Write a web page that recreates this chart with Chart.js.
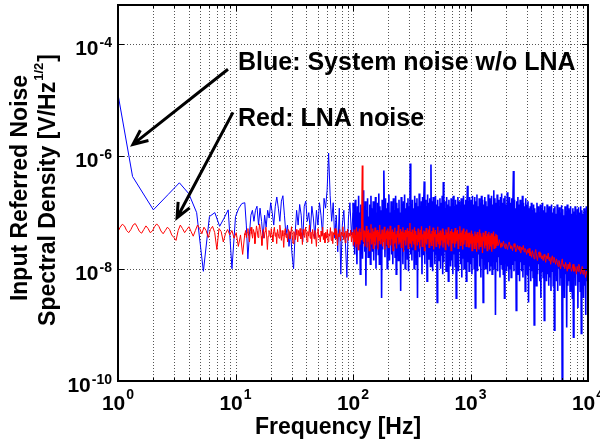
<!DOCTYPE html>
<html>
<head>
<meta charset="utf-8">
<script src="https://cdn.jsdelivr.net/npm/chart.js@4.4.1/dist/chart.umd.min.js"></script>
<style>
  html, body { margin: 0; padding: 0; background: #fff; }
  #wrap { width: 600px; height: 444px; }
</style>
</head>
<body>
<div id="wrap"><canvas id="psd" width="600" height="444"></canvas></div>
<script>
// noise density, in nV/rtHz
const NV = 1e-9;
const FONT = '"Liberation Sans", Arial, sans-serif';

// system noise (blue): the first bins are typed with their frequency
const blueLowHz = [1, 1.33, 2, 2.67, 3.33, 4, 4.67, 5.33, 6, 6.67, 7.33, 8, 8.67, 9.33, 10, 10.67, 11.33];
const blueLowNV = [12800, 440, 112, 210, 340, 218, 100, 9, 85, 100, 57, 80, 112, 10, 85, 120, 145];
// 12 Hz .. 100 Hz
const blueMidNV = [150, 60, 15, 40, 90, 110, 70, 110, 130, 60, 120, 70, 35, 90, 55, 110, 80, 150, 100, 60,
  130, 190, 120, 70, 160, 200, 90, 40, 60, 25, 45, 18, 10, 40, 110, 60, 140, 90, 30, 130,
  160, 70, 100, 45, 130, 80, 35, 110, 60, 150, 90, 40, 180, 120, 250, 1150, 200, 70, 150, 35,
  90, 20, 120, 8, 60, 110, 30, 7, 80, 150, 40, 100];
// 100 Hz .. 10 kHz
const blueHighNV = [
  150, 25, 110, 18, 170, 40, 90, 12, 130, 30, 200, 22, 100, 8, 140, 35, 120, 15, 250, 28, 95, 20, 160, 5, 110, 30, 180, 16, 85, 24, 140, 12, 200, 30, 120,
  20, 160, 14, 120, 28, 190, 10, 100, 24, 150, 18, 220, 12, 130, 30, 110, 3, 170, 22, 140, 560, 90, 16, 180, 26, 120, 10, 150, 20, 210, 14, 100, 30, 160, 18,
  130, 12, 180, 25, 110, 16, 200, 8, 150, 28, 120, 14, 170, 20, 100, 4, 190, 26, 140, 12, 160, 22, 210, 10, 120, 30, 150, 15, 180, 9, 130, 24, 750, 18, 140,
  14, 170, 22, 120, 10, 200, 28, 150, 12, 180, 3, 130, 20, 220, 16, 110, 25, 160, 8, 190, 18, 140, 360, 12, 170, 24, 130, 6, 210, 15, 150, 20, 180, 11, 720,
  15, 160, 9, 190, 20, 120, 12, 200, 18, 140, 2.5, 170, 14, 130, 22, 180, 10, 150, 17, 200, 8, 350, 13, 160, 20, 120, 9, 190, 15, 140, 6, 170, 19, 130, 11,
  180, 14, 150, 8, 200, 18, 130, 11, 170, 3, 140, 16, 190, 9, 160, 20, 120, 12, 180, 7, 150, 15, 200, 10, 140, 18, 170, 6, 130, 300, 13, 160, 9, 190, 16,
  12, 170, 8, 200, 16, 140, 10, 190, 2, 160, 14, 210, 9, 130, 18, 180, 11, 150, 7, 200, 15, 170, 2.5, 140, 12, 190, 10, 160, 17, 130, 8, 210, 13, 180, 9,
  160, 11, 200, 8, 140, 14, 250, 10, 180, 1.5, 150, 13, 210, 9, 170, 16, 130, 7, 190, 12, 220, 10, 150, 8, 180, 3, 200, 14, 140, 9, 230, 11, 160, 6, 190,
  10, 150, 7, 180, 12, 130, 550, 9, 170, 14, 120, 1.8, 160, 8, 190, 11, 140, 6, 170, 13, 110, 9, 200, 7, 150, 12, 130, 4, 180, 10, 140, 8, 160, 2.5, 120,
  11, 130, 6, 150, 9, 110, 7, 140, 1, 120, 10, 100, 5, 150, 8, 130, 12, 90, 6, 140, 3, 120, 9, 150, 7, 110, 1.2, 130, 10, 100, 6, 140, 8, 120, 5,
  130, 7, 110, 4, 140, 9, 100, 5, 120, 0.8, 130, 8, 95, 6, 140, 4, 110, 10, 125, 5, 100, 7, 135, 0.05, 115, 6, 90, 3, 130, 8, 105, 0.9, 140, 5, 120,
  6, 110, 4, 130, 8, 95, 3, 120, 0.6, 105, 7, 130, 5, 90, 9, 115, 2, 125, 6, 100, 4, 130, 0.7, 110, 8, 95, 3, 120, 5, 105, 1.5, 130, 6, 100, 4
];

// LNA noise (red)
// 1 Hz .. 12 Hz
const redLowNV = [46, 55, 62, 58, 48, 44, 50, 60, 64, 55, 46, 43, 50, 58, 52, 44, 47, 56, 63, 57,
  47, 42, 48, 55, 50, 40, 36, 32, 48, 60, 52, 44, 50, 56, 46, 38, 48, 60, 52, 42,
  55, 48, 36, 50, 57, 44, 22, 52, 46, 30, 42, 50, 40, 48, 35, 44, 25, 40, 18, 42];
// 12 Hz .. 100 Hz
const redMidNV = [
  40, 48, 36, 44, 52, 38, 30, 46, 55, 42, 35, 50, 44, 28, 40, 58, 48, 36, 45, 63, 50, 38, 26, 42, 50, 35, 46, 55, 40, 22, 38, 48, 44,
  36, 52, 40, 30, 46, 55, 38, 44, 28, 50, 42, 35, 60, 45, 32, 48, 38, 24, 44, 52, 36, 42, 30, 50, 46, 34, 40, 56, 38, 28, 46, 42, 33, 50, 40,
  30, 48, 38, 52, 34, 44, 27, 50, 40, 36, 55, 42, 30, 46, 38, 60, 35, 45, 28, 50, 42, 34, 48, 37, 25, 44, 52, 36, 40, 30, 47, 38, 55, 33, 43, 29,
  45, 35, 50, 30, 42, 38, 54, 32, 46, 28, 44, 40, 52, 34, 48, 26, 42, 37, 50, 31, 45, 39, 56, 33, 44, 29, 47, 36, 51, 32, 43, 38, 49, 30, 45, 35
];
// 100 Hz .. 1.7 kHz
const redBandNV = [
  44, 26, 50, 30, 40, 24, 55, 28, 46, 22, 38, 52, 27, 45, 33, 80, 690, 70, 30, 48, 25, 42, 36, 58, 24, 47, 31, 50, 21, 44, 35, 62, 27, 40, 52, 23, 46, 30, 54, 26, 43, 37, 49, 22, 45, 32, 60, 28, 41, 34,
  50, 25, 44, 30, 56, 22, 40, 35, 48, 27, 52, 24, 46, 33, 58, 26, 42, 38, 50, 21, 45, 29, 54, 31, 41, 23, 47, 36, 60, 27, 43, 30, 51, 24, 46, 34, 55, 20, 44, 32, 49, 26, 42, 37, 53, 23, 47, 29, 65, 28,
  45, 24, 50, 31, 42, 27, 55, 22, 47, 35, 40, 26, 52, 30, 44, 23, 49, 33, 57, 25, 41, 36, 48, 21, 46, 29, 53, 27, 43, 34, 50, 24, 58, 30, 42, 26, 47, 32, 54, 22, 45, 37, 49, 25, 41, 31, 56, 28, 44, 23,
  48, 26, 43, 32, 52, 24, 46, 30, 40, 22, 50, 35, 44, 27, 55, 25, 42, 33, 47, 21, 51, 29, 45, 36, 40, 24, 53, 28, 46, 31, 49, 23, 42, 34, 57, 26, 44, 30, 48, 22, 52, 27, 41, 33, 46, 25, 50, 29, 43, 24,
  44, 24, 40, 28, 48, 21, 42, 30, 38, 23, 46, 26, 41, 20, 45, 29, 39, 22, 50, 25, 43, 27, 37, 19, 44, 31, 40, 23, 47, 26, 38, 21, 42, 28, 45, 22, 39, 25, 43, 20, 41, 27, 46, 23, 38, 24, 42, 26, 40, 28
];
// 1.7 kHz .. 10 kHz
const redTopNV = [
  30, 26, 33, 28, 24, 29, 25, 31, 27, 23, 28, 25, 22, 27, 30, 26, 23, 25, 21, 26, 28, 24, 20, 23, 26, 22, 25, 21, 19, 24, 22, 26, 20, 23, 21,
  18, 22, 19, 23, 17, 20, 16, 21, 18, 15, 19, 22, 17, 14, 18, 20, 16, 19, 15, 17, 14, 18, 16, 13, 17, 15, 19, 14, 16, 12, 15, 17, 13, 16, 14, 12, 15,
  13, 11, 14, 12, 10, 13, 15, 11, 12, 10, 13, 11, 9, 12, 10, 13, 11, 9, 10, 12, 9, 11, 10, 8, 11, 9, 12, 10, 8, 9, 11, 8, 10, 9, 7, 9, 8, 7
];

const xTickExp = [0, 1, 2, 3, 4];
const yTickExp = [-10, -8, -6, -4];
const yMax = 5e-4;

// text and arrows, anchored in data units [Hz, V]
const notes = [
  { text: 'Blue: System noise w/o LNA', at: [10.5, 3.43e-5], from: [8.63, 3.58e-5], to: [1.34, 1.64e-6] },
  { text: 'Red: LNA noise', at: [10.5, 3.43e-6], from: [9.52, 6.1e-6], to: [3.18, 8.1e-8] }
];

// put a run of bins on a log-spaced frequency grid between f0 and f1
function spread(f0, f1, vals) {
  const n = vals.length;
  return vals.map(function (v, i) {
    return { x: f0 * Math.pow(f1 / f0, i / (n - 1)), y: v * NV };
  });
}

const blueSparse = blueLowHz.map(function (f, i) {
  return { x: f, y: blueLowNV[i] * NV };
}).concat(spread(12, 100, blueMidNV));
const blueDense = spread(100, 10000, blueHighNV);

const redSparse = spread(1, 12, redLowNV).concat(spread(12, 100, redMidNV));
const redDense = spread(100, 1700, redBandNV);
const redTail = spread(1700, 10000, redTopNV);

function drawPow(ctx, exp, x, base, rise, align) {
  ctx.font = 'bold 21px ' + FONT;
  const w1 = ctx.measureText('10').width;
  ctx.font = 'bold 14px ' + FONT;
  const w2 = ctx.measureText(String(exp)).width;
  const total = w1 + 1 + w2;
  const left = align === 'right' ? x - total : x - total / 2;
  ctx.textAlign = 'left';
  ctx.textBaseline = 'alphabetic';
  ctx.font = 'bold 21px ' + FONT;
  ctx.fillText('10', left, base);
  ctx.font = 'bold 14px ' + FONT;
  ctx.fillText(String(exp), left + w1 + 1, base - rise);
}

function arrow(ctx, x1, y1, x2, y2) {
  const a = Math.atan2(y2 - y1, x2 - x1);
  const len = 16, wing = 0.42;
  ctx.beginPath();
  ctx.moveTo(x1, y1);
  ctx.lineTo(x2, y2);
  ctx.moveTo(x2 - len * Math.cos(a - wing), y2 - len * Math.sin(a - wing));
  ctx.lineTo(x2, y2);
  ctx.lineTo(x2 - len * Math.cos(a + wing), y2 - len * Math.sin(a + wing));
  ctx.stroke();
}

const axesLook = {
  id: 'axesLook',
  beforeDatasetsDraw: function (chart) {
    const ctx = chart.ctx, a = chart.chartArea;
    const xs = chart.scales.x, ys = chart.scales.y;
    ctx.save();
    ctx.strokeStyle = '#555';
    ctx.lineWidth = 1;
    ctx.setLineDash([1, 2]);
    ctx.beginPath();
    for (let k = 0; k < 4; k++) {
      for (let m = 1; m < 10; m++) {
        const f = m * Math.pow(10, k);
        if (f === 1) continue;
        const px = Math.round(xs.getPixelForValue(f)) + 0.5;
        ctx.moveTo(px, a.top);
        ctx.lineTo(px, a.bottom);
      }
    }
    yTickExp.forEach(function (e) {
      if (e === yTickExp[0]) return;
      const py = Math.round(ys.getPixelForValue(Math.pow(10, e))) + 0.5;
      ctx.moveTo(a.left, py);
      ctx.lineTo(a.right, py);
    });
    ctx.stroke();
    ctx.restore();
  },
  afterDatasetsDraw: function (chart) {
    const ctx = chart.ctx, a = chart.chartArea;
    const xs = chart.scales.x, ys = chart.scales.y;
    ctx.save();
    ctx.strokeStyle = '#000';
    ctx.fillStyle = '#000';

    // inward ticks
    ctx.lineWidth = 1;
    ctx.beginPath();
    for (let k = 0; k < 4; k++) {
      for (let m = 1; m < 10; m++) {
        const px = Math.round(xs.getPixelForValue(m * Math.pow(10, k))) + 0.5;
        const len = m === 1 ? 6 : 3;
        ctx.moveTo(px, a.bottom); ctx.lineTo(px, a.bottom - len);
        ctx.moveTo(px, a.top); ctx.lineTo(px, a.top + len);
      }
    }
    yTickExp.forEach(function (e) {
      const py = Math.round(ys.getPixelForValue(Math.pow(10, e))) + 0.5;
      ctx.moveTo(a.left, py); ctx.lineTo(a.left + 6, py);
      ctx.moveTo(a.right, py); ctx.lineTo(a.right - 6, py);
    });
    ctx.stroke();

    // box
    ctx.lineWidth = 2;
    ctx.strokeRect(a.left, a.top, a.right - a.left, a.bottom - a.top);

    // tick labels
    xTickExp.forEach(function (e) {
      drawPow(ctx, e, xs.getPixelForValue(Math.pow(10, e)), 410, 11, 'center');
    });
    yTickExp.forEach(function (e) {
      drawPow(ctx, e, 112, ys.getPixelForValue(Math.pow(10, e)) + 11, 8, 'right');
    });

    // axis titles
    ctx.font = 'bold 23px ' + FONT;
    ctx.textAlign = 'center';
    ctx.fillText('Frequency [Hz]', 338, 434);

    ctx.save();
    ctx.translate(27, 188);
    ctx.rotate(-Math.PI / 2);
    ctx.fillText('Input Referred Noise', 0, 0);
    ctx.restore();

    ctx.save();
    ctx.translate(55, 190);
    ctx.rotate(-Math.PI / 2);
    const s1 = 'Spectral Density [V/Hz', s2 = '1/2', s3 = ']';
    ctx.font = 'bold 23px ' + FONT;
    const w1 = ctx.measureText(s1).width, w3 = ctx.measureText(s3).width;
    ctx.font = 'bold 13px ' + FONT;
    const w2 = ctx.measureText(s2).width;
    let left = -(w1 + w2 + w3 + 2) / 2;
    ctx.textAlign = 'left';
    ctx.font = 'bold 23px ' + FONT;
    ctx.fillText(s1, left, 0);
    ctx.font = 'bold 13px ' + FONT;
    ctx.fillText(s2, left + w1 + 1, -12);
    ctx.font = 'bold 23px ' + FONT;
    ctx.fillText(s3, left + w1 + w2 + 2, 0);
    ctx.restore();

    // annotations
    ctx.lineWidth = 3;
    ctx.lineJoin = 'miter';
    notes.forEach(function (n) {
      arrow(ctx, xs.getPixelForValue(n.from[0]), ys.getPixelForValue(n.from[1]),
        xs.getPixelForValue(n.to[0]), ys.getPixelForValue(n.to[1]));
      ctx.font = 'bold 25px ' + FONT;
      ctx.textAlign = 'left';
      ctx.fillText(n.text, xs.getPixelForValue(n.at[0]), ys.getPixelForValue(n.at[1]));
    });
    ctx.restore();
  }
};

function trace(data, color, width) {
  return { data: data, borderColor: color, borderWidth: width, pointRadius: 0, fill: false };
}

new Chart(document.getElementById('psd'), {
  type: 'line',
  data: {
    // red first so it sits on top of the blue
    datasets: [
      trace(redSparse, '#ff0000', 1),
      trace(redDense, '#ff0000', 1.3),
      trace(redTail, '#ff0000', 1),
      trace(blueSparse, '#0000ff', 1),
      trace(blueDense, '#0000ff', 1.6)
    ]
  },
  options: {
    responsive: false,
    animation: false,
    events: [],
    layout: { padding: { left: 118, right: 12, top: 5, bottom: 63 } },
    plugins: { legend: { display: false }, tooltip: { enabled: false } },
    scales: {
      x: { type: 'logarithmic', min: 1, max: 10000, display: false },
      y: { type: 'logarithmic', min: 1e-10, max: yMax, display: false }
    }
  },
  plugins: [axesLook]
});
</script>
</body>
</html>
